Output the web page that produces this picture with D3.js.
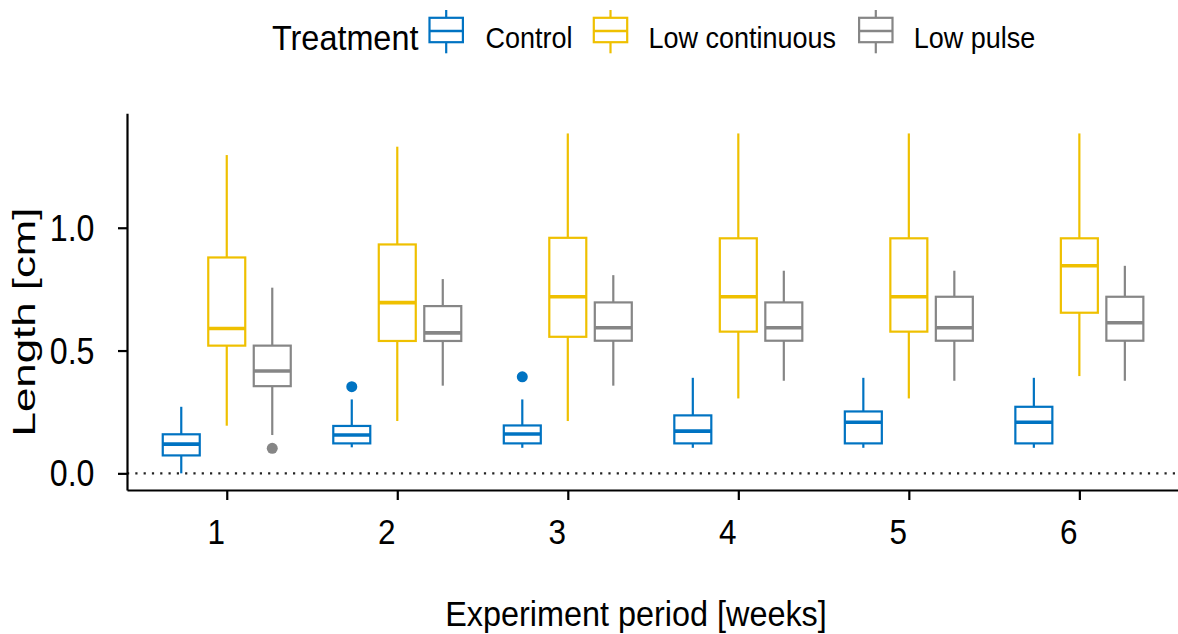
<!DOCTYPE html>
<html>
<head>
<meta charset="utf-8">
<script src="https://cdn.jsdelivr.net/npm/d3@7"></script>
<style>
  body { margin: 0; background: #fff; }
  text { font-family: 'Liberation Sans', Arial, sans-serif; fill: #000; }
</style>
</head>
<body>
<div id="root"></div>
<script>
const periods = [1, 2, 3, 4, 5, 6]
const treatments = ['Control', 'Low continuous', 'Low pulse']
const colors = ['#0073C2', '#EFC000', '#868686']

// [lower whisker, q1, median, q3, upper whisker], one row per period
const controlStats = [
  [0.0, 0.073, 0.119, 0.159, 0.271],
  [0.106, 0.122, 0.156, 0.193, 0.301],
  [0.104, 0.122, 0.160, 0.195, 0.301],
  [0.104, 0.122, 0.172, 0.236, 0.389],
  [0.104, 0.122, 0.208, 0.252, 0.389],
  [0.104, 0.122, 0.208, 0.271, 0.389]
]
const lowContinuousStats = [
  [0.194, 0.520, 0.590, 0.879, 1.296],
  [0.213, 0.539, 0.695, 0.932, 1.330],
  [0.213, 0.556, 0.719, 0.959, 1.384],
  [0.305, 0.577, 0.719, 0.957, 1.384],
  [0.305, 0.577, 0.719, 0.957, 1.384],
  [0.396, 0.654, 0.845, 0.957, 1.384]
]
const lowPulseStats = [
  [0.156, 0.355, 0.417, 0.520, 0.756],
  [0.357, 0.539, 0.572, 0.681, 0.791],
  [0.357, 0.540, 0.593, 0.696, 0.807],
  [0.377, 0.540, 0.593, 0.696, 0.825],
  [0.377, 0.540, 0.593, 0.719, 0.825],
  [0.377, 0.540, 0.613, 0.719, 0.845]
]
const outliers = [
  { period: 1, treatment: 'Low pulse', value: 0.102 },
  { period: 2, treatment: 'Control', value: 0.353 },
  { period: 3, treatment: 'Control', value: 0.393 }
]
const yTicks = [0, 0.5, 1.0]

const allStats = [controlStats, lowContinuousStats, lowPulseStats]
const boxes = periods.flatMap((p, i) => treatments.map((t, j) => ({
  period: p,
  treatment: t,
  color: colors[j],
  lo: allStats[j][i][0],
  q1: allStats[j][i][1],
  med: allStats[j][i][2],
  q3: allStats[j][i][3],
  hi: allStats[j][i][4]
})))

const dimensions = { width: 1178, height: 634 }
const plot = { left: 127, top: 113.3, bottom: 490 }

const svg = d3.select('#root')
  .append('svg')
  .attr('width', dimensions.width)
  .attr('height', dimensions.height)

const xScale = d3.scaleLinear()
  .domain([0.415, 6.6])
  .range([plot.left, plot.left + 6.185 * 170.52])
const yScale = d3.scaleLinear()
  .domain([-0.0678, 1.466])
  .range([plot.bottom, plot.top])
const dodge = d3.scaleBand()
  .domain(treatments)
  .range([-68.25, 68.25])
  .paddingInner(0.187)
  .paddingOuter(0.0935)
const colorScale = d3.scaleOrdinal().domain(treatments).range(colors)

// dotted zero line
svg.append('line')
  .attr('x1', plot.left)
  .attr('x2', dimensions.width)
  .attr('y1', yScale(0))
  .attr('y2', yScale(0))
  .attr('stroke', '#222')
  .attr('stroke-width', 2.2)
  .attr('stroke-dasharray', '2.2 6.1')

// boxes
const bw = dodge.bandwidth()
const boxG = svg.append('g').selectAll('g')
  .data(boxes)
  .join('g')
  .attr('transform', d => `translate(${xScale(d.period) + dodge(d.treatment) + bw / 2},0)`)

boxG.append('line')
  .attr('y1', d => yScale(d.hi))
  .attr('y2', d => yScale(d.q3))
  .attr('stroke', d => d.color)
  .attr('stroke-width', 2.2)
boxG.append('line')
  .attr('y1', d => yScale(d.q1))
  .attr('y2', d => yScale(d.lo))
  .attr('stroke', d => d.color)
  .attr('stroke-width', 2.2)
boxG.append('rect')
  .attr('x', -bw / 2)
  .attr('width', bw)
  .attr('y', d => yScale(d.q3))
  .attr('height', d => yScale(d.q1) - yScale(d.q3))
  .attr('fill', '#fff')
  .attr('stroke', d => d.color)
  .attr('stroke-width', 2.2)
boxG.append('line')
  .attr('x1', -bw / 2)
  .attr('x2', bw / 2)
  .attr('y1', d => yScale(d.med))
  .attr('y2', d => yScale(d.med))
  .attr('stroke', d => d.color)
  .attr('stroke-width', 3.6)

svg.append('g').selectAll('circle')
  .data(outliers)
  .join('circle')
  .attr('cx', d => xScale(d.period) + dodge(d.treatment) + bw / 2)
  .attr('cy', d => yScale(d.value))
  .attr('r', 5.5)
  .attr('fill', d => colorScale(d.treatment))

// axes
const yAxis = svg.append('g')
  .attr('transform', `translate(${plot.left},0)`)
  .call(d3.axisLeft(yScale).tickValues(yTicks).tickFormat(d3.format('.1f')).tickSize(9).tickSizeOuter(0))
const xAxis = svg.append('g')
  .attr('transform', `translate(0,${plot.bottom})`)
  .call(d3.axisBottom(xScale).tickValues(periods).tickFormat(d3.format('d')).tickSize(10).tickSizeOuter(0))

svg.selectAll('.domain, .tick line')
  .attr('stroke', '#000')
  .attr('stroke-width', 2.2)
yAxis.selectAll('.tick text')
  .attr('x', null)
  .attr('dy', null)
  .attr('y', 12.5)
  .attr('font-size', 37)
  .attr('font-family', null)
  .attr('text-anchor', 'end')
  .attr('transform', 'translate(-32.5,0) scale(0.87,1)')
xAxis.selectAll('.tick text')
  .attr('y', null)
  .attr('dy', null)
  .attr('font-size', 35)
  .attr('font-family', null)
  .attr('text-anchor', 'middle')
  .attr('transform', 'translate(-11,54) scale(0.9,1)')

// axis titles
svg.append('text')
  .attr('transform', 'translate(636,626) scale(0.9,1)')
  .attr('text-anchor', 'middle')
  .attr('font-size', 36)
  .text('Experiment period [weeks]')
svg.append('text')
  .attr('transform', 'translate(35,322) rotate(-90) scale(1.37,1)')
  .attr('text-anchor', 'middle')
  .attr('font-size', 32)
  .text('Length [cm]')

// legend
svg.append('text')
  .attr('transform', 'translate(272,50) scale(0.9,1)')
  .attr('font-size', 36)
  .text('Treatment')

const keyLeft = [428.4, 592.7, 858]
const labelLeft = [485.6, 648.6, 913.8]
const key = svg.append('g').selectAll('g')
  .data(treatments)
  .join('g')
  .attr('transform', (d, i) => `translate(${keyLeft[i]},0)`)
key.append('line')
  .attr('x1', 17.8).attr('x2', 17.8)
  .attr('y1', 10).attr('y2', 53.3)
  .attr('stroke', d => colorScale(d))
  .attr('stroke-width', 2.2)
key.append('rect')
  .attr('x', 1.1).attr('width', 33.4)
  .attr('y', 17.8).attr('height', 24.4)
  .attr('fill', '#fff')
  .attr('stroke', d => colorScale(d))
  .attr('stroke-width', 2.2)
key.append('line')
  .attr('x1', 1.1).attr('x2', 34.5)
  .attr('y1', 31).attr('y2', 31)
  .attr('stroke', d => colorScale(d))
  .attr('stroke-width', 2.6)
svg.append('g').selectAll('text')
  .data(treatments)
  .join('text')
  .attr('transform', (d, i) => `translate(${labelLeft[i]},48.3) scale(0.9,1)`)
  .attr('font-size', 30)
  .text(d => d)
</script>
</body>
</html>
